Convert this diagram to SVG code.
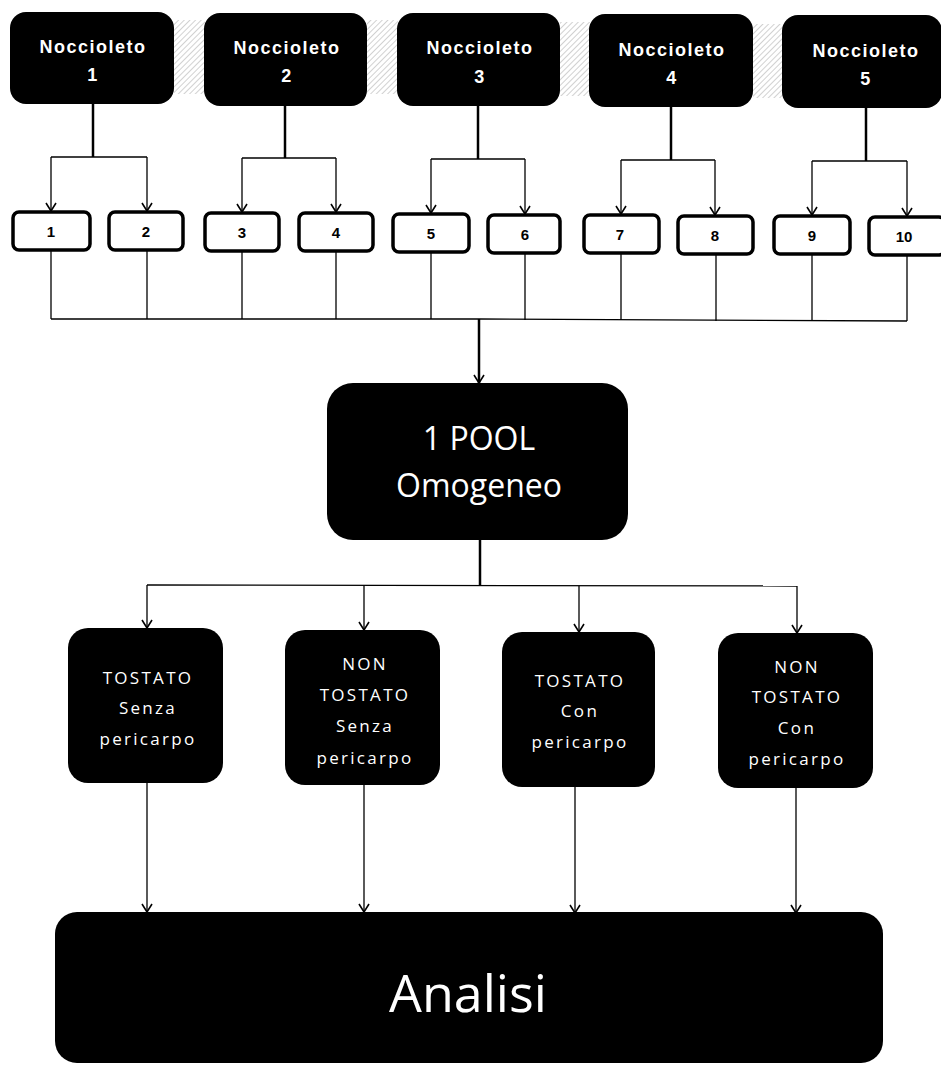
<svg xmlns="http://www.w3.org/2000/svg" width="941" height="1066" viewBox="0 0 941 1066">
<style>
.dark{fill:#000;}
.small{fill:#fff;stroke:#000;stroke-width:3.5;}
.t-top{font-family:"Liberation Sans",Arial,sans-serif;font-weight:bold;font-size:18px;letter-spacing:1.5px;fill:#fff;text-anchor:middle;}
.t-num{font-family:"Liberation Sans",Arial,sans-serif;font-weight:bold;font-size:15px;fill:#000;text-anchor:middle;}
.t-mid{font-family:"Open Sans",sans-serif;font-size:17px;letter-spacing:2.3px;fill:#fff;text-anchor:middle;}
.t-big{font-family:"Open Sans",sans-serif;fill:#fff;text-anchor:middle;}
.ln{stroke:#000;stroke-width:1.3;fill:none;}
.stem{stroke:#000;stroke-width:2.5;fill:none;}
</style>
<defs>
<marker id="arr" markerWidth="14" markerHeight="14" refX="11" refY="7" orient="auto" markerUnits="userSpaceOnUse">
<polyline points="3,2 11,7 3,12" fill="none" stroke="#000" stroke-width="1.6"/>
</marker>
<pattern id="hatch" width="4" height="4" patternUnits="userSpaceOnUse" patternTransform="rotate(45)">
<line x1="0" y1="0" x2="0" y2="4" stroke="#9a9a9a" stroke-width="1.5"/>
</pattern>
</defs>
<rect width="941" height="1066" fill="#fff"/>
<g id="shadows" opacity="0.6">
<rect x="174" y="20" width="31" height="74" fill="url(#hatch)"/>
<rect x="367" y="20" width="31" height="74" fill="url(#hatch)"/>
<rect x="560" y="22" width="30" height="74" fill="url(#hatch)"/>
<rect x="753" y="24" width="30" height="74" fill="url(#hatch)"/>
</g>
<g id="connectors">
<line class="stem" x1="93" y1="104" x2="93" y2="157"/>
<polyline class="ln" points="51,157 147,157"/>
<line class="ln" x1="51" y1="157" x2="51" y2="211" marker-end="url(#arr)"/>
<line class="ln" x1="147" y1="157" x2="147" y2="211" marker-end="url(#arr)"/>
<line class="stem" x1="285" y1="106" x2="285" y2="158"/>
<polyline class="ln" points="242,158 336,158"/>
<line class="ln" x1="242" y1="158" x2="242" y2="212" marker-end="url(#arr)"/>
<line class="ln" x1="336" y1="158" x2="336" y2="212" marker-end="url(#arr)"/>
<line class="stem" x1="478" y1="106" x2="478" y2="159"/>
<polyline class="ln" points="431,159 525,159"/>
<line class="ln" x1="431" y1="159" x2="431" y2="213" marker-end="url(#arr)"/>
<line class="ln" x1="525" y1="159" x2="525" y2="214" marker-end="url(#arr)"/>
<line class="stem" x1="671" y1="107" x2="671" y2="160"/>
<polyline class="ln" points="621,160 715,160"/>
<line class="ln" x1="621" y1="160" x2="621" y2="214" marker-end="url(#arr)"/>
<line class="ln" x1="715" y1="160" x2="715" y2="215" marker-end="url(#arr)"/>
<line class="stem" x1="866" y1="108" x2="866" y2="161"/>
<polyline class="ln" points="812,161 907,161"/>
<line class="ln" x1="812" y1="161" x2="812" y2="215" marker-end="url(#arr)"/>
<line class="ln" x1="907" y1="161" x2="907" y2="216" marker-end="url(#arr)"/>
<line class="ln" x1="51" y1="251" x2="51" y2="319"/>
<line class="ln" x1="147" y1="251" x2="147" y2="319"/>
<line class="ln" x1="242" y1="252" x2="242" y2="319"/>
<line class="ln" x1="336" y1="252" x2="336" y2="319"/>
<line class="ln" x1="431" y1="253" x2="431" y2="319"/>
<line class="ln" x1="525" y1="254" x2="525" y2="320"/>
<line class="ln" x1="621" y1="254" x2="621" y2="320"/>
<line class="ln" x1="716" y1="255" x2="716" y2="321"/>
<line class="ln" x1="812" y1="255" x2="812" y2="321"/>
<line class="ln" x1="907" y1="256" x2="907" y2="321"/>
<polyline class="ln" points="51,319 479,319 907,321"/>
<line class="stem" x1="479" y1="319" x2="479" y2="383" marker-end="url(#arr)"/>
<line class="stem" x1="480" y1="540" x2="480" y2="585"/>
<polyline class="ln" points="147,585 797,586"/>
<line class="ln" x1="147" y1="585" x2="147" y2="628" marker-end="url(#arr)"/>
<line class="ln" x1="364" y1="585" x2="364" y2="630" marker-end="url(#arr)"/>
<line class="ln" x1="579" y1="586" x2="579" y2="632" marker-end="url(#arr)"/>
<line class="ln" x1="797" y1="586" x2="797" y2="633" marker-end="url(#arr)"/>
<line class="ln" x1="147" y1="783" x2="147" y2="912" marker-end="url(#arr)"/>
<line class="ln" x1="364" y1="785" x2="364" y2="912" marker-end="url(#arr)"/>
<line class="ln" x1="575" y1="787" x2="575" y2="913" marker-end="url(#arr)"/>
<line class="ln" x1="796" y1="788" x2="796" y2="913" marker-end="url(#arr)"/>
</g>
<g id="noccioleto1"><rect class="dark" x="10" y="12" width="164" height="92" rx="16"/><text class="t-top" x="93" y="53">Noccioleto</text><text class="t-top" x="93" y="81">1</text></g>
<g id="noccioleto2"><rect class="dark" x="204" y="13" width="163" height="93" rx="16"/><text class="t-top" x="287" y="54">Noccioleto</text><text class="t-top" x="287" y="82">2</text></g>
<g id="noccioleto3"><rect class="dark" x="397" y="13" width="163" height="93" rx="16"/><text class="t-top" x="480" y="54">Noccioleto</text><text class="t-top" x="480" y="83">3</text></g>
<g id="noccioleto4"><rect class="dark" x="589" y="14" width="164" height="93" rx="16"/><text class="t-top" x="672" y="56">Noccioleto</text><text class="t-top" x="672" y="84">4</text></g>
<g id="noccioleto5"><rect class="dark" x="782" y="15" width="160" height="93" rx="16"/><text class="t-top" x="866" y="57">Noccioleto</text><text class="t-top" x="866" y="85">5</text></g>
<g id="c1"><rect class="small" x="13" y="212" width="77" height="38" rx="6"/><text class="t-num" x="51" y="237">1</text></g>
<g id="c2"><rect class="small" x="109" y="212" width="74" height="38" rx="6"/><text class="t-num" x="146" y="237">2</text></g>
<g id="c3"><rect class="small" x="205" y="213" width="74" height="38" rx="6"/><text class="t-num" x="242" y="238">3</text></g>
<g id="c4"><rect class="small" x="299" y="213" width="74" height="38" rx="6"/><text class="t-num" x="336" y="238">4</text></g>
<g id="c5"><rect class="small" x="393" y="214" width="76" height="38" rx="6"/><text class="t-num" x="431" y="239">5</text></g>
<g id="c6"><rect class="small" x="488" y="215" width="72" height="38" rx="6"/><text class="t-num" x="525" y="240">6</text></g>
<g id="c7"><rect class="small" x="584" y="215" width="75" height="38" rx="6"/><text class="t-num" x="620" y="240">7</text></g>
<g id="c8"><rect class="small" x="678" y="216" width="75" height="38" rx="6"/><text class="t-num" x="715" y="241">8</text></g>
<g id="c9"><rect class="small" x="774" y="216" width="76" height="38" rx="6"/><text class="t-num" x="812" y="241">9</text></g>
<g id="c10"><rect class="small" x="869" y="217" width="76" height="38" rx="6"/><text class="t-num" x="904" y="242">10</text></g>
<g id="pool"><rect class="dark" x="327" y="383" width="301" height="157" rx="26"/><text class="t-big" x="479" y="450" font-size="32">1 POOL</text><text class="t-big" x="479" y="497" font-size="32">Omogeneo</text></g>
<g id="v1"><rect class="dark" x="68" y="628" width="155" height="155" rx="20"/><text class="t-mid" x="148" y="684">TOSTATO</text><text class="t-mid" x="148" y="714">Senza</text><text class="t-mid" x="148" y="745">pericarpo</text></g>
<g id="v2"><rect class="dark" x="285" y="630" width="155" height="155" rx="20"/><text class="t-mid" x="365" y="670">NON</text><text class="t-mid" x="365" y="701">TOSTATO</text><text class="t-mid" x="365" y="732">Senza</text><text class="t-mid" x="365" y="764">pericarpo</text></g>
<g id="v3"><rect class="dark" x="502" y="632" width="153" height="155" rx="20"/><text class="t-mid" x="580" y="687">TOSTATO</text><text class="t-mid" x="580" y="717">Con</text><text class="t-mid" x="580" y="748">pericarpo</text></g>
<g id="v4"><rect class="dark" x="718" y="633" width="155" height="155" rx="20"/><text class="t-mid" x="797" y="673">NON</text><text class="t-mid" x="797" y="703">TOSTATO</text><text class="t-mid" x="797" y="734">Con</text><text class="t-mid" x="797" y="765">pericarpo</text></g>
<g id="analisi"><rect class="dark" x="55" y="912" width="828" height="151" rx="22"/><text class="t-big" x="468" y="1012" font-size="52">Analisi</text></g>
</svg>
